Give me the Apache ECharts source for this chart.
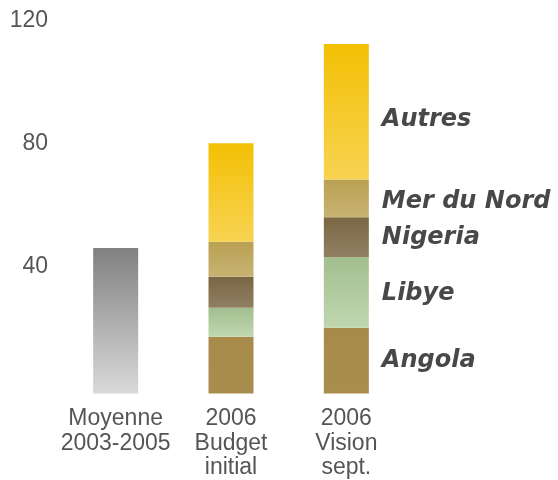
<!DOCTYPE html>
<html>
<head>
<meta charset="utf-8">
<script src="https://cdn.jsdelivr.net/npm/echarts@6/dist/echarts.min.js"></script>
<style>
  html, body { margin: 0; padding: 0; background: #fff; }
  #chart { width: 558px; height: 480px; }
</style>
</head>
<body>
<div id="chart"></div>
<script>
// categories and values (Mb/j)
const categories = ['Moyenne\n2003-2005', '2006\nBudget\ninitial', '2006\nVision\nsept.'];
const moyenne = [47.4, '-', '-'];
const angola = ['-', 18.5, 21.4];
const libye = ['-', 9.4, 23.0];
const nigeria = ['-', 10.1, 13.0];
const merDuNord = ['-', 11.4, 12.3];
const autres = ['-', 32.1, 44.1];
const yTicks = [40, 80, 120];

const FONT = '"Liberation Sans", Arial, sans-serif';
const LABEL_FONT = '"DejaVu Sans", "Liberation Sans", sans-serif';

const grad = (top, bottom) => new echarts.graphic.LinearGradient(0, 0, 0, 1, [
  { offset: 0, color: top }, { offset: 1, color: bottom }
]);

// label only on the last column, to the right of each segment
const mkSeries = (name, data, color, dy = 0) => ({
  name, type: 'bar', stack: 'total', barWidth: 45, data: data.map((v, i) => {
    if (i !== 2) return v;
    return {
      value: v,
      label: {
        show: true, position: 'right', distance: 13, offset: [0, dy], formatter: '{a}',
        fontFamily: LABEL_FONT, fontSize: 24, fontWeight: 'bold', fontStyle: 'italic', color: '#484848'
      }
    };
  }),
  itemStyle: { color }
});

const chart = echarts.init(document.getElementById('chart'));
chart.setOption({
  animation: false,
  grid: { left: 58, right: 154, top: 25, bottom: 85 },
  xAxis: {
    type: 'category', data: categories,
    axisLine: { show: false }, axisTick: { show: false },
    axisLabel: { margin: 13, fontFamily: FONT, fontSize: 23, lineHeight: 24.5, color: '#555', interval: 0 }
  },
  yAxis: {
    type: 'value', min: 0, max: 120, interval: 40,
    splitLine: { show: false }, axisLine: { show: false }, axisTick: { show: false },
    axisLabel: {
      margin: 10, fontFamily: FONT, fontSize: 23, color: '#555', showMinLabel: false,
      verticalAlign: 'bottom', lineHeight: 8,
      formatter: v => yTicks.includes(v) ? String(v) : ''
    }
  },
  series: [
    { name: 'Moyenne', type: 'bar', stack: 'total', barWidth: 45, data: moyenne, itemStyle: { color: grad('#808080', '#d9d9d9') } },
    mkSeries('Angola', angola, grad('#a88b4b', '#a98d4e'), 0),
    mkSeries('Libye', libye, grad('#a2bf8e', '#c0d7b0'), 1),
    mkSeries('Nigeria', nigeria, grad('#7a6644', '#908062'), 1),
    mkSeries('Mer du Nord', merDuNord, grad('#b9a052', '#c8b373'), 3),
    mkSeries('Autres', autres, grad('#f3c004', '#f7d352'), 8)
  ]
});
</script>
</body>
</html>
